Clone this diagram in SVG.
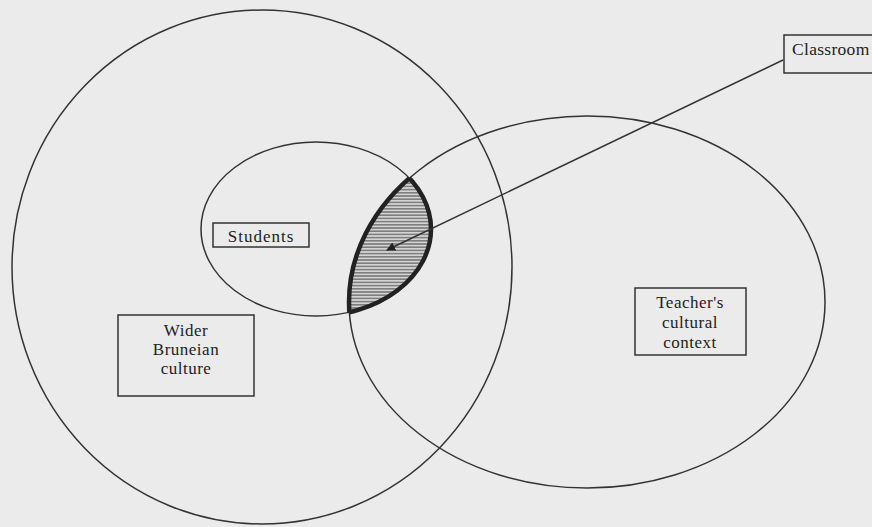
<svg xmlns="http://www.w3.org/2000/svg" width="872" height="527" viewBox="0 0 872 527">
  <style>
    .ring { fill: none; stroke: #333; stroke-width: 1.5; }
    .box { fill: none; stroke: #333; stroke-width: 1.5; }
    .label { font-family: "Liberation Serif", "Times New Roman", serif; font-size: 17px; fill: #222; text-anchor: middle; letter-spacing: 0.5px; }
    .edge { stroke: #333; stroke-width: 1.5; fill: none; }
    .rim { fill: none; stroke: #222; stroke-width: 4.5; }
  </style>
  <defs>
    <!-- horizontal hatching for the shared region -->
    <pattern id="hatch" width="8" height="3.2" patternUnits="userSpaceOnUse">
      <rect width="8" height="3.2" fill="#d4d4d4"/>
      <line x1="0" y1="0.8" x2="8" y2="0.8" stroke="#6a6a6a" stroke-width="1.3"/>
    </pattern>
    <clipPath id="inStudents">
      <ellipse cx="316" cy="229" rx="115" ry="87"/>
    </clipPath>
    <clipPath id="inTeacher">
      <ellipse cx="587" cy="302" rx="238" ry="186"/>
    </clipPath>
    <marker id="arrow" viewBox="0 0 10 10" refX="9" refY="5" markerWidth="9" markerHeight="9" markerUnits="userSpaceOnUse" orient="auto">
      <path d="M0,0 L10,5 L0,10 Z" fill="#222"/>
    </marker>
  </defs>

  <rect width="872" height="527" fill="#ebebeb"/>

  <g id="wider-culture">
    <ellipse class="ring" cx="262" cy="267" rx="250" ry="257"/>
    <rect class="box" x="118" y="315" width="136" height="81"/>
    <text class="label" x="186" y="336">Wider</text>
    <text class="label" x="186" y="355">Bruneian</text>
    <text class="label" x="186" y="374">culture</text>
  </g>

  <g id="teacher-context">
    <ellipse class="ring" cx="587" cy="302" rx="238" ry="186"/>
    <rect class="box" x="635" y="288" width="111" height="67"/>
    <text class="label" x="690" y="308">Teacher's</text>
    <text class="label" x="690" y="328">cultural</text>
    <text class="label" x="690" y="348">context</text>
  </g>

  <g id="students">
    <ellipse class="ring" cx="316" cy="229" rx="115" ry="87"/>
    <rect class="box" x="213" y="223" width="96" height="24"/>
    <text class="label" x="261" y="242" style="letter-spacing:1px">Students</text>
  </g>

  <!-- overlap of students and teacher: hatched with a heavy rim -->
  <g id="classroom-region">
    <g clip-path="url(#inTeacher)">
      <rect x="300" y="170" width="150" height="150" fill="url(#hatch)" clip-path="url(#inStudents)"/>
      <ellipse class="rim" cx="316" cy="229" rx="115" ry="87"/>
    </g>
    <g clip-path="url(#inStudents)">
      <ellipse class="rim" cx="587" cy="302" rx="238" ry="186"/>
    </g>
  </g>

  <g id="classroom">
    <rect class="box" x="784" y="35" width="100" height="38"/>
    <text class="label" x="792" y="55" style="text-anchor:start;font-size:17.5px;letter-spacing:0.3px">Classroom</text>
  </g>

  <g id="connectors">
    <line class="edge" x1="783" y1="60" x2="387" y2="250" marker-end="url(#arrow)"/>
  </g>
</svg>
